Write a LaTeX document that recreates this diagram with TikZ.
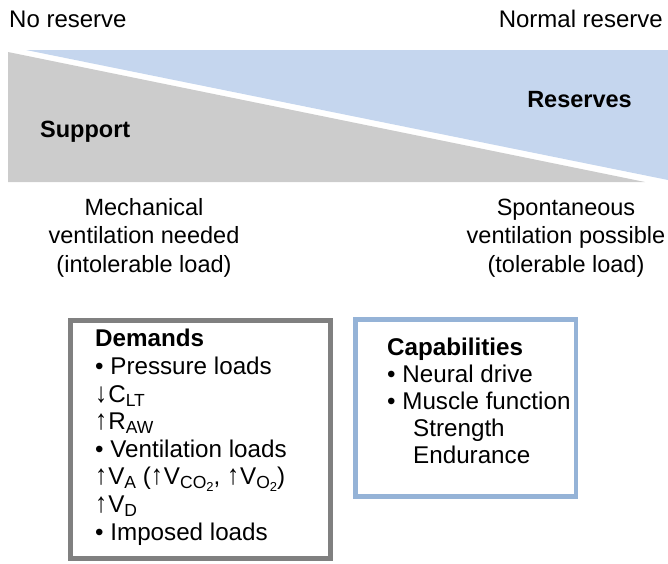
\documentclass[tikz,border=0pt]{standalone}
\usepackage{fontspec}
\setmainfont{Liberation Sans}
\definecolor{supportgray}{RGB}{204,204,204}
\definecolor{reserveblue}{RGB}{197,214,238}
\definecolor{demandgray}{RGB}{128,128,128}
\definecolor{capblue}{RGB}{149,179,215}
\newcommand\lowsub[1]{\raisebox{-4pt}{\fontsize{17.5}{17.5}\selectfont #1}}
\newcommand\lowersub[1]{\raisebox{-3pt}{\fontsize{13}{13}\selectfont #1}}
\newcommand\upar{\scalebox{1}[1.15]{↑}\kern1pt}
\newcommand\downar{\scalebox{1}[1.15]{↓}\kern1pt}
\begin{document}
\begin{tikzpicture}[x=1pt, y=-1pt, line join=miter,
        lbl/.style={inner sep=0pt, font=\fontsize{23.5}{28.5}\selectfont},
        boldlbl/.style={lbl, font=\fontsize{23.5}{28.5}\selectfont\bfseries},
        boxtext/.style={inner sep=0pt, align=left, anchor=base west}]
            \useasboundingbox (0,0) rectangle (668,563);
            \path
            (8,52) coordinate (S1)
            (8,182) coordinate (S2)
            (645,182) coordinate (S3)
            (26,50) coordinate (R1)
            (668,50) coordinate (R2)
            (668,180) coordinate (R3)
            (70.5,320.5) coordinate (D1)
            (330.5,558.5) coordinate (D2)
            (355.5,319.5) coordinate (C1)
            (576,496.5) coordinate (C2)
            ;
            \fill[supportgray] (S1)--(S2)--(S3)--cycle;
            \fill[reserveblue] (R1)--(R2)--(R3)--cycle;
            \draw[demandgray, line width=4.5pt] (D1) rectangle (D2);
            \draw[capblue, line width=4.5pt] (C1) rectangle (C2);

            \node[lbl, font=\fontsize{24}{28}\selectfont, anchor=base west] (noreserve) at (9,27) {No reserve};
            \node[lbl, font=\fontsize{24}{28}\selectfont, anchor=base east] (normalreserve) at (663,27) {Normal reserve};
            \node[boldlbl, anchor=base west] (support) at (40,137) {Support};
            \node[boldlbl, anchor=base east] (reserves) at (632,107) {Reserves};

            % multi-line nodes sit on their last line
            \node[lbl, align=center, anchor=base] (mechanical) at (144,272)
                {Mechanical\\ventilation needed\\(intolerable load)};
            \node[lbl, align=center, anchor=base] (spontaneous) at (566,272)
                {Spontaneous\\ventilation possible\\(tolerable load)};

            \node[boxtext, font=\fontsize{24.2}{27.6}\selectfont] (demands) at (95,540)
                {\textbf{Demands}\\
                 \textbullet\ Pressure loads\\
                 \downar C\lowsub{LT}\\
                 \upar R\lowsub{AW}\\
                 \textbullet\ Ventilation loads\\
                 \upar V\lowsub{A} (\upar V\lowsub{CO\lowersub{2}}, \upar V\lowsub{O\lowersub{2}})\\
                 \upar V\lowsub{D}\\
                 \textbullet\ Imposed loads};
            \node[boxtext, font=\fontsize{24.2}{27}\selectfont] (capabilities) at (387,463)
                {\textbf{Capabilities}\\
                 \textbullet\ Neural drive\\
                 \textbullet\ Muscle function\\
                 \hspace*{26pt}Strength\\
                 \hspace*{26pt}Endurance};
        \end{tikzpicture}
\end{document}
